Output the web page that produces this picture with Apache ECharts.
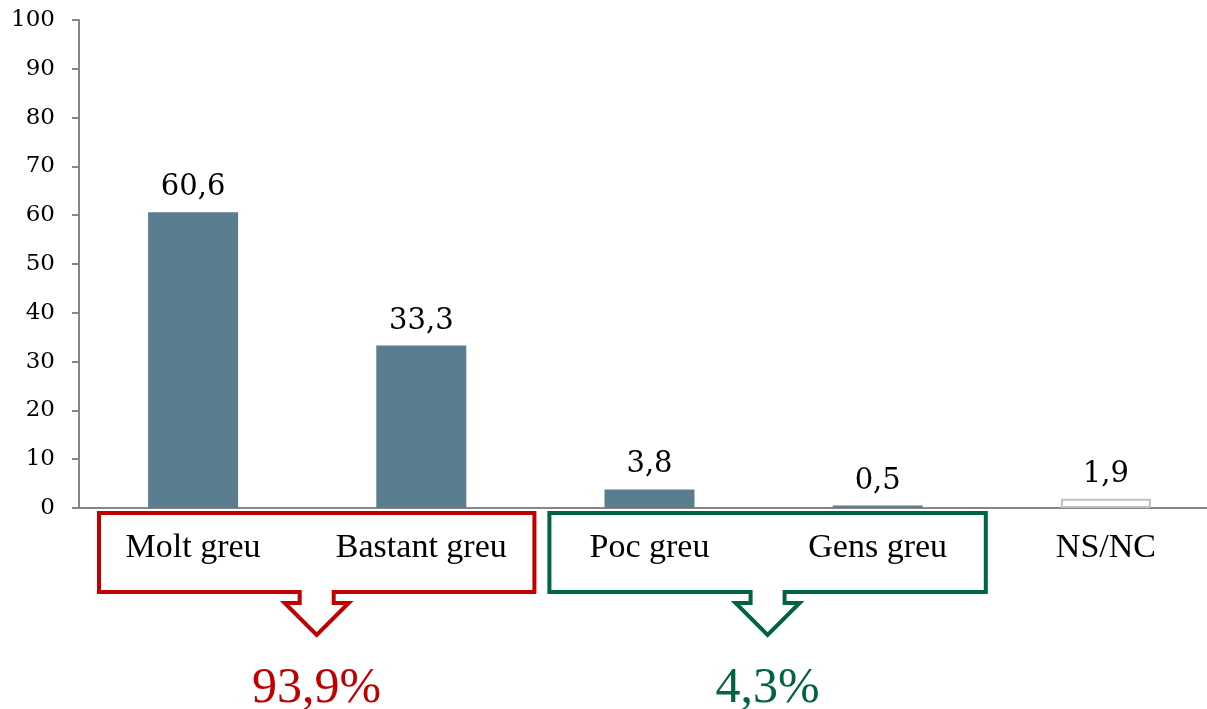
<!DOCTYPE html>
<html>
<head>
<meta charset="utf-8">
<script src="https://cdn.jsdelivr.net/npm/echarts@6/dist/echarts.min.js"></script>
<style>
  html, body { margin: 0; padding: 0; background: #fff; overflow: hidden; }
  #chart { width: 1220px; height: 709px; }
</style>
</head>
<body>
<div id="chart"></div>
<script>
// categories and values
const categories = ['Molt greu', 'Bastant greu', 'Poc greu', 'Gens greu', 'NS/NC'];
const values = [60.6, 33.3, 3.8, 0.5, 1.9];
const yTicks = [0, 10, 20, 30, 40, 50, 60, 70, 80, 90, 100];
// grouped totals shown under the brackets
const groupLabels = ['93,9%', '4,3%'];
const groupRanges = [[0, 1], [2, 3]];

const barColor = '#5B7D90';
const axisGray = '#868686';
const groupColors = ['#C00000', '#006342'];

const fmt = v => String(v).replace('.', ',');

const chart = echarts.init(document.getElementById('chart'));

const option = {
  animation: false,
  grid: { left: 79, top: 20, right: 0, bottom: 201 },
  xAxis: {
    type: 'category',
    data: categories,
    axisLine: { lineStyle: { color: axisGray, width: 2 } },
    axisTick: { length: 10, lineStyle: { color: axisGray, width: 2 } },
    axisLabel: {
      color: '#000',
      fontFamily: 'Liberation Serif',
      fontSize: 34,
      margin: 23
    }
  },
  yAxis: {
    type: 'value',
    min: yTicks[0],
    max: yTicks[yTicks.length - 1],
    interval: 10,
    splitLine: { show: false },
    axisLine: { show: true, lineStyle: { color: axisGray, width: 2 } },
    axisTick: { show: true, length: 7, lineStyle: { color: axisGray, width: 2 } },
    axisLabel: {
      color: '#000',
      fontFamily: 'DejaVu Serif',
      fontSize: 23,
      margin: 24
    }
  },
  series: [{
    type: 'bar',
    barWidth: 90,
    data: values.map((v, i) => i === values.length - 1
      ? { value: v, itemStyle: { color: '#fff', borderColor: '#BFBFBF', borderWidth: 2 } }
      : { value: v, itemStyle: { color: barColor } }),
    label: {
      show: true,
      position: 'top',
      distance: 10,
      color: '#000',
      fontFamily: 'DejaVu Serif',
      fontSize: 29,
      formatter: p => fmt(p.value)
    }
  }]
};

chart.setOption(option);

// brackets with arrows under the grouped categories
const c0 = chart.convertToPixel({ xAxisIndex: 0 }, 0);
const c1 = chart.convertToPixel({ xAxisIndex: 0 }, 1);
const band = c1 - c0;
const bound = i => c0 - band / 2 + i * band; // left edge of category i
const insets = [[20, -1], [14, -6]];

const boxTop = 513, boxBottom = 592, stemY = 603, tipY = 635;
const stemHalf = 17, flareHalf = 32;

const graphics = [];
groupRanges.forEach((r, g) => {
  const L = bound(r[0]) + insets[g][0];
  const R = bound(r[1] + 1) + insets[g][1];
  const cx = (L + R) / 2;
  graphics.push({
    type: 'polygon',
    z: 100,
    shape: {
      points: [
        [L, boxTop], [R, boxTop], [R, boxBottom],
        [cx + stemHalf, boxBottom], [cx + stemHalf, stemY], [cx + flareHalf, stemY],
        [cx, tipY],
        [cx - flareHalf, stemY], [cx - stemHalf, stemY], [cx - stemHalf, boxBottom],
        [L, boxBottom]
      ]
    },
    style: { fill: null, stroke: groupColors[g], lineWidth: 4, lineJoin: 'miter' }
  });
  graphics.push({
    type: 'text',
    z: 100,
    x: cx,
    y: 689,
    style: {
      text: groupLabels[g],
      fill: groupColors[g],
      font: '50px "Liberation Serif"',
      align: 'center',
      verticalAlign: 'middle'
    }
  });
});

chart.setOption({ graphic: graphics });
</script>
</body>
</html>
